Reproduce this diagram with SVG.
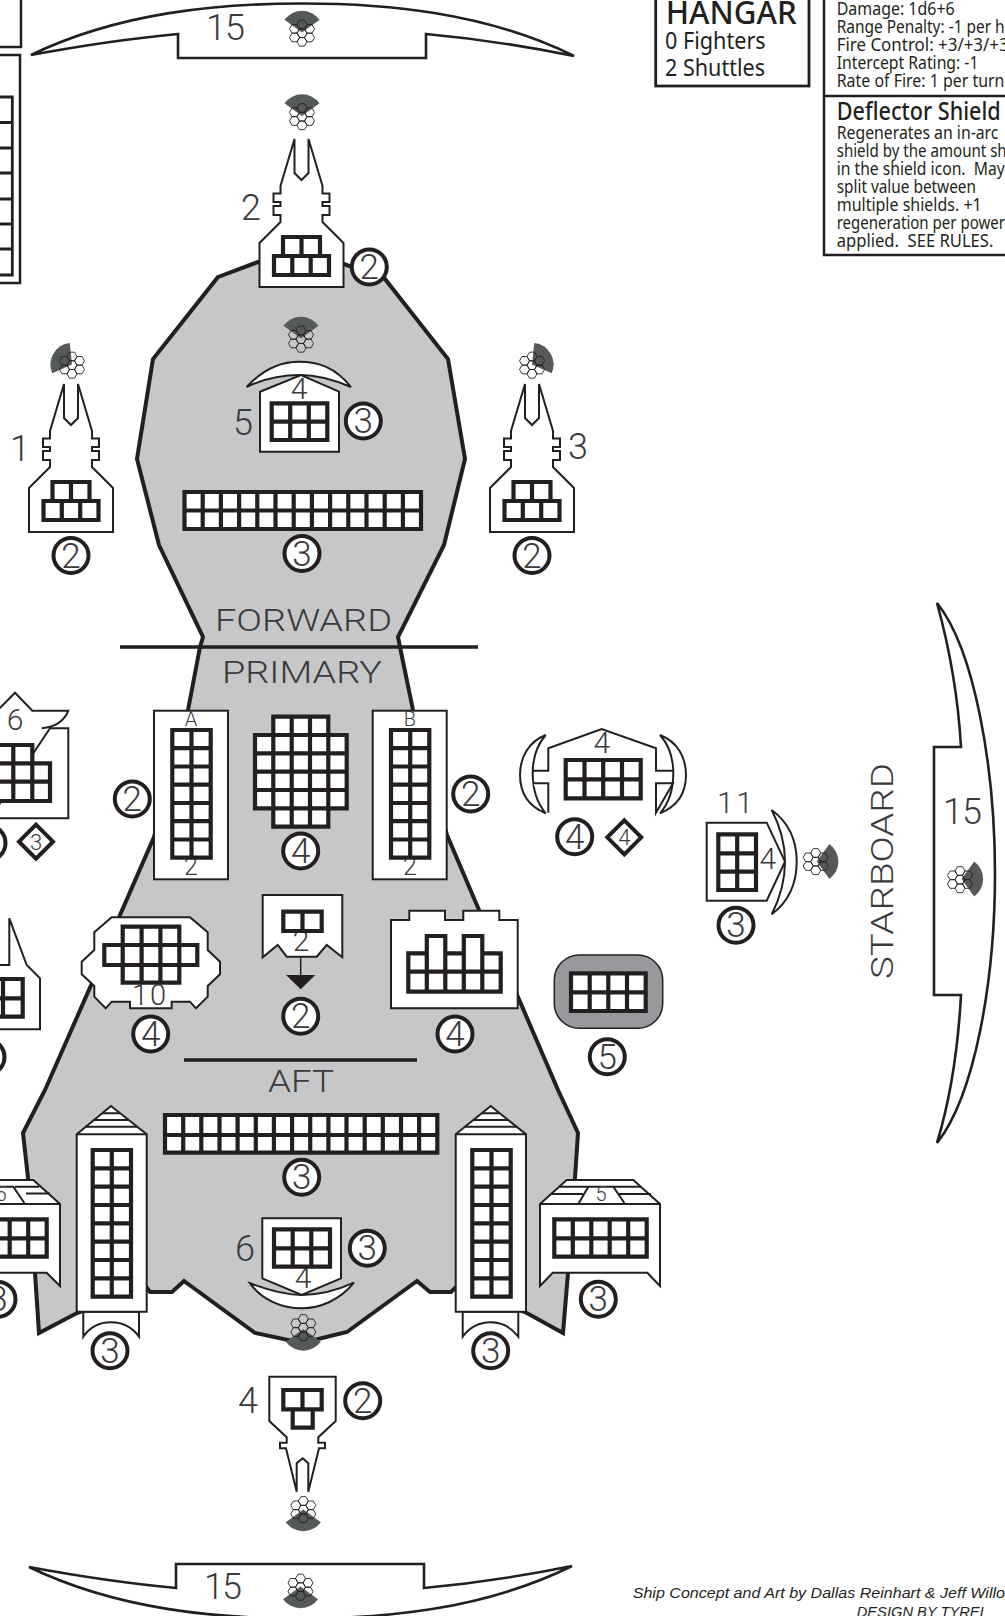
<svg xmlns="http://www.w3.org/2000/svg" width="1005" height="1616" viewBox="0 0 1005 1616">
<style>
.s{fill:#fff;stroke:#231f20;stroke-width:2;stroke-linejoin:miter}
.t2{fill:#fff;stroke:#231f20;stroke-width:2.6}
.g{fill:#fff;stroke:#231f20;stroke-width:4.2}
.o{fill:#fff;stroke:#231f20;stroke-width:4}
.l{fill:none;stroke:#231f20;stroke-width:2}
.n{font-family:Roboto,"Liberation Sans",Arial,sans-serif;font-weight:300;font-size:36px;fill:#3a3a3c}
.w{font-size:32px}
.k{font-size:30px}
.m{text-anchor:middle}
.c{font-family:Roboto,"Liberation Sans",Arial,sans-serif;font-weight:300;font-size:35px;fill:#3a3a3c;text-anchor:middle}
.d{font-family:Roboto,"Liberation Sans",Arial,sans-serif;font-weight:300;font-size:22px;fill:#3a3a3c;text-anchor:middle}
.b{font-family:"Noto Sans","Liberation Sans",sans-serif;fill:#231f20}
.i{font-size:18px}
.f{font-family:"Liberation Sans",Arial,sans-serif;font-style:italic;font-size:14.7px;fill:#231f20}
.hx{fill:none;stroke:#231f20;stroke-width:.9}
</style>
<defs>
<path id="fan" fill="#55595a" d="M0 0L-17.5 -12.7A21.6 21.6 0 0 1 17.5 -12.7Z"/>
<path id="hex" class="hx" d="M-5 0l2.500-4.330h5l2.500 4.330l-2.500 4.330h-5zM-5 8.660l2.500-4.330h5l2.500 4.330l-2.500 4.330h-5zM-5 17.320l2.500-4.330h5l2.500 4.330l-2.500 4.330h-5zM-12.500 4.330l2.500-4.330h5l2.500 4.330l-2.500 4.330h-5zM-12.500 12.990l2.500-4.330h5l2.500 4.330l-2.500 4.330h-5zM2.500 4.330l2.500-4.330h5l2.500 4.330l-2.500 4.330h-5zM2.500 12.990l2.500-4.330h5l2.500 4.330l-2.500 4.330h-5z"/>
<g id="turret">
<path class="s" d="M-42 0V-44L-21 -65V-72H-28V-81H-21V-85H-28V-93.500H-21V-101L-7 -148V-114L0 -107L7 -114V-148L21 -101V-93.500H28V-85H21V-81H28V-72H21V-65L42 -44V0Z"/>
<path class="g" d="M-27.500 -31H27.500V-12H-27.500ZM-18.500 -31V-50H18.500V-31M0 -50V-31M-9.200 -31V-12M9.200 -31V-12"/>
</g>
<path id="shield" class="t2" d="M31 55C120 12 220 3.500 302 3.500C385 3.500 485 12 574 56C520 45 470 38 426 34V58H178V34C135 38 85 45 31 55Z"/>
</defs>
<rect width="1005" height="1616" fill="#fff"/>
<g id="hull">
<path fill="#c6c7c9" stroke="#231f20" stroke-width="4" stroke-linejoin="miter" d="M218 277L258 262L344 264L385 279L448 359L465 459L444 545L398 637L400 647L413 710L447 835L479 910L518 997L558 1090L578 1133L575 1178L568 1273L563 1333L525 1312L455 1288L451 1292L430 1292L417 1281L347 1332L302 1343L255 1333L184 1281L172 1292L150 1292L147 1288L77 1313L39 1333L35 1273L28 1178L23 1133L45 1090L92 983L120 915L154 837L188 710L200 647L203 637L159 545L137 459L153 359Z"/>
<path fill="none" stroke="#231f20" stroke-width="3.500" d="M120 647H478M184 1060H417"/>
<text class="n w" x="215" y="631" textLength="177" lengthAdjust="spacingAndGlyphs">FORWARD</text>
<text class="n w" x="222" y="683" textLength="160" lengthAdjust="spacingAndGlyphs">PRIMARY</text>
<text class="n w" x="268" y="1092" textLength="66" lengthAdjust="spacingAndGlyphs">AFT</text>
</g>
<g id="shield-fore">
<use href="#shield"/>
<text class="n" x="206" y="40" textLength="39">15</text>
<use href="#fan" transform="translate(302 32.500)"/><use href="#hex" transform="translate(302 24.500)"/>
</g>
<g id="shield-aft">
<use href="#shield" transform="translate(-2 1622) scale(1 -1)"/>
<text class="n" x="204" y="1599" textLength="38">15</text>
<use href="#fan" transform="translate(300.500 1586.500) rotate(180)"/><use href="#hex" transform="translate(300.500 1578.500)"/>
</g>
<g id="shield-starboard">
<path class="t2" d="M937 603C975 650 995 770 995 873.500C995 980 975 1095 937 1143C950 1100 958 1050 961 995H934V747H961C958 695 950 650 937 603Z"/>
<text class="n" x="943" y="824" textLength="39">15</text>
<use href="#fan" transform="translate(961.500 879) rotate(90)"/><use href="#hex" transform="translate(960 871)"/>
<text class="n w" transform="translate(893 979) rotate(-90)" x="0" y="0" textLength="216" lengthAdjust="spacingAndGlyphs">STARBOARD</text>
</g>
<g id="weapon-top">
<use href="#turret" transform="translate(301.500 287)"/>
<text class="n" x="241" y="220">2</text>
<use href="#fan" transform="translate(302 116)"/><use href="#hex" transform="translate(302 108)"/>
<circle class="o" cx="369.300" cy="267" r="17.500"/><text class="c" x="369.300" y="279">2</text>
</g>
<g id="weapon-left">
<use href="#turret" transform="translate(71 532)"/>
<text class="n" x="10" y="461">1</text>
<use href="#fan" transform="translate(72 364.500) rotate(-60)"/><use href="#hex" transform="translate(72 356.500)"/>
<circle class="o" cx="71" cy="555.500" r="17.500"/><text class="c" x="71" y="567.500">2</text>
</g>
<g id="weapon-right">
<use href="#turret" transform="translate(532 532)"/>
<text class="n" x="568" y="459">3</text>
<use href="#fan" transform="translate(532 364.500) rotate(60)"/><use href="#hex" transform="translate(532 356.500)"/>
<circle class="o" cx="532" cy="555.500" r="17.500"/><text class="c" x="532" y="567.500">2</text>
</g>
<g id="forward-c2">
<use href="#fan" transform="translate(301 338.500)"/><use href="#hex" transform="translate(301 330.500)"/>
<path class="s" d="M246.700 387C265 367 285 361.700 299 361.700C318 361.700 335 367 351 387C330 378 315 375 300 375C285 375 265 378 246.700 387Z"/>
<path class="s" d="M260 451.700V391.700L301 375L339 391.700V451.700Z"/>
<text class="n k m" x="299" y="399">4</text>
<text class="n" x="233" y="435">5</text>
<path class="g" d="M271.700 403.300H327.300V440H271.700ZM271.700 421.700H327.300M290.200 403.300V440M308.800 403.300V440"/>
<circle class="o" cx="363.300" cy="421" r="17.500"/><text class="c" x="363.300" y="433">3</text>
</g>
<g id="forward-grid">
<path class="g" d="M184.500 492H421V529H184.500ZM184.500 510.500H421M202.700 492V529M220.900 492V529M239.100 492V529M257.300 492V529M275.500 492V529M293.700 492V529M311.900 492V529M330.100 492V529M348.300 492V529M366.500 492V529M384.700 492V529M402.900 492V529"/>
<circle class="o" cx="302" cy="553.500" r="17.500"/><text class="c" x="302" y="565.500">3</text>
</g>
<g id="thruster-a">
<rect class="s" x="154" y="710.700" width="74" height="168.600"/>
<text class="n m" x="191" y="726" style="font-size:20px">A</text>
<text class="n m" x="191" y="875" style="font-size:25px">2</text>
<path class="g" d="M172.300 730H210.700V857.700H172.300ZM191.500 730V857.700M172.300 748.200H210.700M172.300 766.500H210.700M172.300 784.700H210.700M172.300 803H210.700M172.300 821.200H210.700M172.300 839.500H210.700"/>
<circle class="o" cx="132.300" cy="799" r="17.500"/><text class="c" x="132.300" y="811">2</text>
</g>
<g id="thruster-b">
<rect class="s" x="372.700" y="710.700" width="74" height="168.600"/>
<text class="n m" x="410" y="726" style="font-size:20px">B</text>
<text class="n m" x="410" y="875" style="font-size:25px">2</text>
<path class="g" d="M391 730H429.300V857.700H391ZM410.200 730V857.700M391 748.200H429.300M391 766.500H429.300M391 784.700H429.300M391 803H429.300M391 821.200H429.300M391 839.500H429.300"/>
<circle class="o" cx="470.700" cy="794" r="17.500"/><text class="c" x="470.700" y="806">2</text>
</g>
<g id="reactor">
<path class="g" d="M273.300 716.700H328.300V735H346.700V808.300H328.300V826.700H273.300V808.300H255V735H273.300ZM255 753.300H346.700M255 771.700H346.700M255 790H346.700M273.300 735H328.300M273.300 808.300H328.300M273.300 735V808.300M328.300 735V808.300M291.700 716.700V826.700M310 716.700V826.700"/>
<circle class="o" cx="300.700" cy="851" r="17.500"/><text class="c" x="300.700" y="863">4</text>
</g>
<g id="connectors">
<path stroke="#231f20" stroke-width="1.500" d="M300.700 957V975"/>
<path fill="#231f20" d="M286 975H315.300L300.700 989.300Z"/>
</g>
<g id="tractor">
<path class="s" d="M262.700 895H342.300V957.300L326.700 945L316.700 956.700H286.700L277.700 945L262.700 957.300Z"/>
<text class="n k m" x="301" y="951">2</text>
<path class="g" d="M283.300 911.700H321.700V931H283.300ZM302.500 911.700V931"/>
<circle class="o" cx="300.700" cy="1016.300" r="17.500"/><text class="c" x="300.700" y="1028.300">2</text>
</g>
<g id="cargo">
<path class="s" d="M111.700 917.300H190L207.700 932.300V950L220 961.700V974.300L207.700 986V996.700L196 1008.300L190 1001.700H171.700V1008.300H130V1001.700H111.700L105.700 1008.300L94.300 996.700V986L81.700 974.300V961.700L94.300 950V932.300Z"/>
<path class="g" d="M122.700 926.700H179.300V945H197.300V965H179.300V982.700H122.700V965H104.300V945H122.700ZM122.700 945H179.300M122.700 965H179.300M122.700 945V965M179.300 945V965M141.600 926.700V982.700M160.400 926.700V982.700"/>
<text class="n m" x="149" y="1005" style="font-size:29px" textLength="34">10</text>
<circle class="o" cx="150.700" cy="1034" r="17.500"/><text class="c" x="150.700" y="1046">4</text>
</g>
<g id="engineering">
<path class="s" d="M391 920H409.300V910.700H445V920H463.300V910.700H499.300V920H517.700V1008.300H391Z"/>
<path class="g" d="M408.300 953.300H426.800V936H445.300V953.300H463.800V936H482.300V953.300H500.700V991.700H408.300ZM408.300 971.700H500.700M426.800 953.300V991.700M445.300 953.300V991.700M463.800 953.300V991.700M482.300 953.300V991.700"/>
<circle class="o" cx="455" cy="1034" r="17.500"/><text class="c" x="455" y="1046">4</text>
</g>
<g id="starboard-wing">
<path class="s" d="M545.700 735C528 742 520 758 520 775C520 792 528 806 545.700 813.300C537 803 532.700 790 532.700 773.300C532.700 758 537 745 545.700 735Z"/>
<path class="s" d="M660 735C678 742 686 758 686 775C686 792 678 806 660 813.300C669 803 673.300 790 673.300 773.300C673.300 758 669 745 660 735Z"/>
<path class="s" d="M548.300 812.700V783.300H533M533 770.700H548.300V748.300L601.700 729L656 748.300V770.700H673M673 783.300H656V812.700Z"/>
<text class="n k m" x="601.700" y="753">4</text>
<path class="g" d="M565.700 760H640.700V798.300H565.700ZM565.700 779.300H640.700M584.500 760V798.300M603.200 760V798.300M622 760V798.300"/>
<circle class="o" cx="574.700" cy="836.700" r="17.500"/><text class="c" x="574.700" y="848.700">4</text>
<path class="o" d="M624.300 820.300L641.300 837.300L624.300 854.300L607.300 837.300Z"/><text class="d" x="624.300" y="845">4</text>
</g>
<g id="port-wing">
<path class="s" d="M-10 718L15 692.700L32.300 710.700H68.300C64 722 55 727 41.700 728.300M50 728.300H68.300V818.300H-10Z"/>
<text class="n k m" x="15" y="730">6</text>
<path class="g" d="M-6 745H32.300V763.300H50V801H-6ZM-6 763.300H32.300M-6 781.700H50M13.300 745V801M32.300 763.300V801"/>
<circle class="o" cx="-12" cy="843" r="17.500"/>
<path class="o" d="M36 824.700L53 841.700L36 858.700L19 841.700Z"/><text class="d" x="36" y="849.500">3</text>
</g>
<g id="port-lower">
<path class="s" d="M-5 965H9.300V918.300L26.700 965L40 978.300V1029.300H-5Z"/>
<path class="g" d="M-16 979H22.700V1016.700H-16ZM-16 998.300H22.700M3 979V1016.700"/>
<circle class="o" cx="-13" cy="1057" r="17.500"/>
</g>
<g id="starboard-weapon">
<path class="s" d="M771.700 810C788 822 796.700 840 796.700 861.700C796.700 884 788 902 771.700 914.300C780 898 785 880 785 861.700C785 842 780 826 771.700 810Z"/>
<path class="s" d="M706.700 822.700H766.700L785 861.700L766.700 900.700H706.700Z"/>
<text class="n k" x="717" y="813" textLength="36">11</text>
<text class="n k m" x="767.700" y="869">4</text>
<path class="g" d="M718.300 834.300H756V890H718.300ZM737.200 834.300V890M718.300 853.300H756M718.300 871.700H756"/>
<use href="#fan" transform="translate(816.700 861.500) rotate(90)"/><use href="#hex" transform="translate(815.700 853)"/>
<circle class="o" cx="736" cy="925.300" r="17.500"/><text class="c" x="736" y="937.300">3</text>
</g>
<g id="starboard-system">
<rect x="554.300" y="955" width="108.400" height="73.300" rx="25" fill="#98999c" stroke="#231f20" stroke-width="1.500"/>
<path class="g" d="M571 973.300H645.700V1011H571ZM571 992.300H645.700M589.700 973.300V1011M608.300 973.300V1011M627 973.300V1011"/>
<circle class="o" cx="607.300" cy="1056.700" r="17.500"/><text class="c" x="607.300" y="1068.700">5</text>
</g>
<g id="aft-grid">
<path class="g" d="M165 1115H437.300V1152.700H165ZM165 1135H437.300M183.200 1115V1152.700M201.300 1115V1152.700M219.500 1115V1152.700M237.600 1115V1152.700M255.800 1115V1152.700M273.900 1115V1152.700M292.100 1115V1152.700M310.200 1115V1152.700M328.400 1115V1152.700M346.500 1115V1152.700M364.700 1115V1152.700M382.800 1115V1152.700M401 1115V1152.700M419.100 1115V1152.700"/>
<circle class="o" cx="301.700" cy="1177.300" r="17.500"/><text class="c" x="301.700" y="1189.300">3</text>
</g>
<g id="tower-left">
<path class="s" d="M83.300 1311.700V1336.700C90 1327 100 1322.300 111 1322.300C122 1322.300 132 1327 139 1336.700V1311.700Z"/>
<path class="s" d="M76.700 1134.300L111 1106L146.700 1134.300V1311.700H76.700Z"/>
<path class="l" d="M76.700 1134.300H146.700M85.500 1126.700H137.500M94 1120H128.500M102 1113.300H120"/>
<path class="g" d="M92.700 1150H131V1296.700H92.700ZM111.800 1150V1296.700M92.700 1168.300H131M92.700 1186.700H131M92.700 1205H131M92.700 1223.300H131M92.700 1241.700H131M92.700 1260H131M92.700 1278.300H131"/>
<circle class="o" cx="110" cy="1350.700" r="17.500"/><text class="c" x="110" y="1362.700">3</text>
</g>
<g id="tower-right">
<path class="s" d="M462.700 1311.700V1336.700C470 1327 480 1322.300 490.500 1322.300C501 1322.300 511 1327 518.300 1336.700V1311.700Z"/>
<path class="s" d="M455.700 1134.300L490.700 1106L526 1134.300V1311.700H455.700Z"/>
<path class="l" d="M455.700 1134.300H526M465 1126.700H517M473 1120H508M482 1113.300H499.500"/>
<path class="g" d="M472.300 1150H510.700V1296.700H472.300ZM491.500 1150V1296.700M472.300 1168.300H510.700M472.300 1186.700H510.700M472.300 1205H510.700M472.300 1223.300H510.700M472.300 1241.700H510.700M472.300 1260H510.700M472.300 1278.300H510.700"/>
<circle class="o" cx="490.700" cy="1350.700" r="17.500"/><text class="c" x="490.700" y="1362.700">3</text>
</g>
<g id="aft-right-wing">
<path class="s" d="M540 1204L566.700 1180H633.300L660 1204V1286L647.300 1272.700H552.700L540 1286Z"/>
<path class="l" d="M540 1204H660M578.300 1204L588.300 1186.700H613.300L625 1204M560 1186.700H588.300M613.300 1186.700H641M551 1194H583M619 1194H651"/>
<text class="n m" x="601" y="1201" style="font-size:20px">5</text>
<path class="g" d="M554.300 1219.300H646.700V1256.700H554.300ZM554.300 1238.300H646.700M572.800 1219.300V1256.700M591.300 1219.300V1256.700M609.700 1219.300V1256.700M628.200 1219.300V1256.700"/>
<circle class="o" cx="598.300" cy="1299.300" r="17.500"/><text class="c" x="598.300" y="1311.300">3</text>
</g>
<g id="aft-left-wing">
<path class="s" d="M-6 1180H33.300L60 1204V1286L46.700 1272.700H-6Z"/>
<path class="l" d="M-6 1204H60M25 1204L13.300 1186.700H-6M15 1186.700H39M26 1193.500H50"/>
<text class="n m" x="1" y="1201" style="font-size:20px">5</text>
<path class="g" d="M-9 1219.300H46.700V1256.700H-9ZM-9 1238.300H46.700M9.700 1219.300V1256.700M28.200 1219.300V1256.700"/>
<circle class="o" cx="-2" cy="1299.300" r="17.500"/><text class="c" x="-2" y="1311.300">3</text>
</g>
<g id="aft-c2">
<path class="s" d="M250 1283.300C268 1290 285 1295 301.700 1295C320 1295 338 1290 354 1282.700C340 1300 320 1308.300 301.700 1308.300C282 1308.300 262 1300 250 1283.300Z"/>
<path class="s" d="M262.300 1218.300H341V1278.300L301.700 1295L262.300 1278.300Z"/>
<text class="n k m" x="303" y="1288">4</text>
<text class="n" x="235" y="1261">6</text>
<path class="g" d="M274 1229.300H330V1266.700H274ZM274 1248.300H330M292.700 1229.300V1266.700M311.300 1229.300V1266.700"/>
<circle class="o" cx="367.300" cy="1248.300" r="17.500"/><text class="c" x="367.300" y="1260.300">3</text>
<use href="#fan" transform="translate(303.300 1329) rotate(180)"/><use href="#hex" transform="translate(303.300 1319)"/>
</g>
<g id="weapon-bottom">
<path class="s" d="M269.300 1376.700H335.700V1421L318.300 1437.300V1442.700H325V1448.300H319L308.300 1491.700V1463.300L302.700 1458.300L296.700 1463.300V1491.700L286 1448.300H280V1442.700H286.700V1437.300L269.300 1421Z"/>
<path class="g" d="M283.300 1390H321.700V1409.300H283.300ZM302.500 1390V1409.300M292.700 1409.300V1427.700H312.700V1409.300"/>
<text class="n" x="238" y="1413">4</text>
<use href="#fan" transform="translate(303.300 1509.500) rotate(180)"/><use href="#hex" transform="translate(303.300 1501)"/>
<circle class="o" cx="362.700" cy="1400.700" r="17.500"/><text class="c" x="362.700" y="1412.700">2</text>
</g>
<g id="left-boxes">
<rect x="-5" y="-5" width="26" height="52" fill="#fff" stroke="#231f20" stroke-width="2.500"/>
<rect x="-5" y="55" width="25" height="228" fill="#fff" stroke="#231f20" stroke-width="2.500"/>
<path fill="none" stroke="#231f20" stroke-width="2.800" d="M-5 97H12.300V275H-5M-5 122.500H12.300M-5 148H12.300M-5 173H12.300M-5 199H12.300M-5 224H12.300M-5 249H12.300"/>
</g>
<g id="hangar">
<rect x="655.700" y="-5" width="153.300" height="91" fill="#fff" stroke="#231f20" stroke-width="2.800"/>
<text class="b" x="665.700" y="23.500" font-size="33" font-weight="500" textLength="131" lengthAdjust="spacingAndGlyphs">HANGAR</text>
<text class="b" x="665" y="49.300" font-size="24" textLength="100.700" lengthAdjust="spacingAndGlyphs">0 Fighters</text>
<text class="b" x="665" y="76" font-size="24" textLength="100" lengthAdjust="spacingAndGlyphs">2 Shuttles</text>
</g>
<g id="weapon-data">
<path fill="#fff" stroke="#231f20" stroke-width="2.500" d="M824 -5V255H1010M824 96H1010"/>
<text class="b i" x="836.700" y="15" textLength="118" lengthAdjust="spacingAndGlyphs">Damage: 1d6+6</text>
<text class="b i" x="836.700" y="33" textLength="168" lengthAdjust="spacingAndGlyphs">Range Penalty: -1 per h</text>
<text class="b i" x="836.700" y="51" textLength="172" lengthAdjust="spacingAndGlyphs">Fire Control: +3/+3/+3</text>
<text class="b i" x="836.700" y="69" textLength="141.700" lengthAdjust="spacingAndGlyphs">Intercept Rating: -1</text>
<text class="b i" x="836.700" y="87" textLength="167.700" lengthAdjust="spacingAndGlyphs">Rate of Fire: 1 per turn</text>
<text class="b" x="836.700" y="120" font-size="25" font-weight="500" textLength="164" lengthAdjust="spacingAndGlyphs">Deflector Shield</text>
<text class="b i" x="836.700" y="139" textLength="161.700" lengthAdjust="spacingAndGlyphs">Regenerates an in-arc</text>
<text class="b i" x="836.700" y="157" textLength="170" lengthAdjust="spacingAndGlyphs">shield by the amount sh</text>
<text class="b i" x="836.700" y="175" textLength="168" lengthAdjust="spacingAndGlyphs">in the shield icon.&#160; May</text>
<text class="b i" x="836.700" y="193" textLength="139.300" lengthAdjust="spacingAndGlyphs">split value between</text>
<text class="b i" x="836.700" y="211" textLength="145" lengthAdjust="spacingAndGlyphs">multiple shields. +1</text>
<text class="b i" x="836.700" y="229" textLength="168.300" lengthAdjust="spacingAndGlyphs">regeneration per power</text>
<text class="b i" x="836.700" y="247" textLength="156.700" lengthAdjust="spacingAndGlyphs">applied.&#160; SEE RULES.</text>
</g>
<g id="credits">
<text class="f" x="632.700" y="1598" textLength="372.300" lengthAdjust="spacingAndGlyphs">Ship Concept and Art by Dallas Reinhart &amp; Jeff Willo</text>
<text class="f" x="856.700" y="1617">DESIGN BY TYREL</text>
</g>
</svg>
